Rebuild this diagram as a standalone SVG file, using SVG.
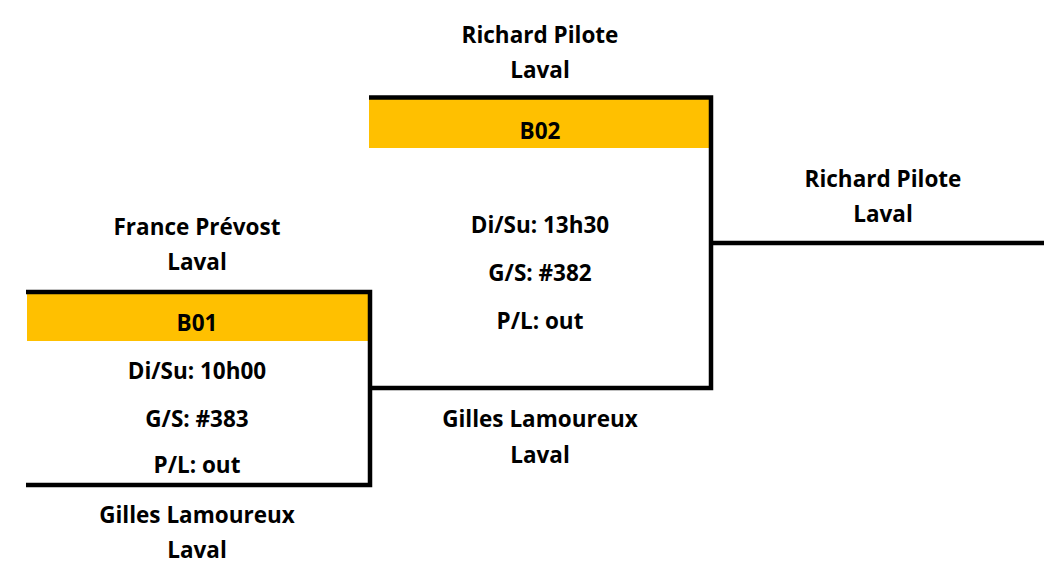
<svg xmlns="http://www.w3.org/2000/svg" width="1044" height="567" viewBox="0 0 1044 567">
<style>
text{font-family:"Open Sans",Lato,"Liberation Sans",sans-serif;font-weight:bold;font-size:22.5px;fill:#000;text-anchor:middle}
.ln{stroke:#000;stroke-width:4.5;fill:none}
.hd{fill:#FFC000}
</style>
<rect width="1044" height="567" fill="#fff"/>
<g id="B01">
<rect class="hd" x="27" y="294" width="342" height="47"/>
<text x="197" y="331">B01</text>
<text x="197" y="379">Di/Su: 10h00</text>
<text x="197" y="427">G/S: #383</text>
<text x="197" y="473">P/L: out</text>
</g>
<g id="B02">
<rect class="hd" x="369" y="99" width="341" height="49"/>
<text x="540" y="139">B02</text>
<text x="540" y="233">Di/Su: 13h30</text>
<text x="540" y="281">G/S: #382</text>
<text x="540" y="329">P/L: out</text>
</g>
<g id="labels">
<text x="540" y="42.5">Richard Pilote</text>
<text x="540" y="78">Laval</text>
<text x="883" y="187">Richard Pilote</text>
<text x="883" y="222">Laval</text>
<text x="197" y="235">France Prévost</text>
<text x="197" y="270">Laval</text>
<text x="540" y="427">Gilles Lamoureux</text>
<text x="540" y="463">Laval</text>
<text x="197" y="523">Gilles Lamoureux</text>
<text x="197" y="558">Laval</text>
</g>
<g id="connectors">
<path class="ln" d="M26 292H370V485H26"/>
<path class="ln" d="M369 97.5H711V388H370"/>
<path class="ln" d="M711 243H1044"/>
</g>
</svg>
